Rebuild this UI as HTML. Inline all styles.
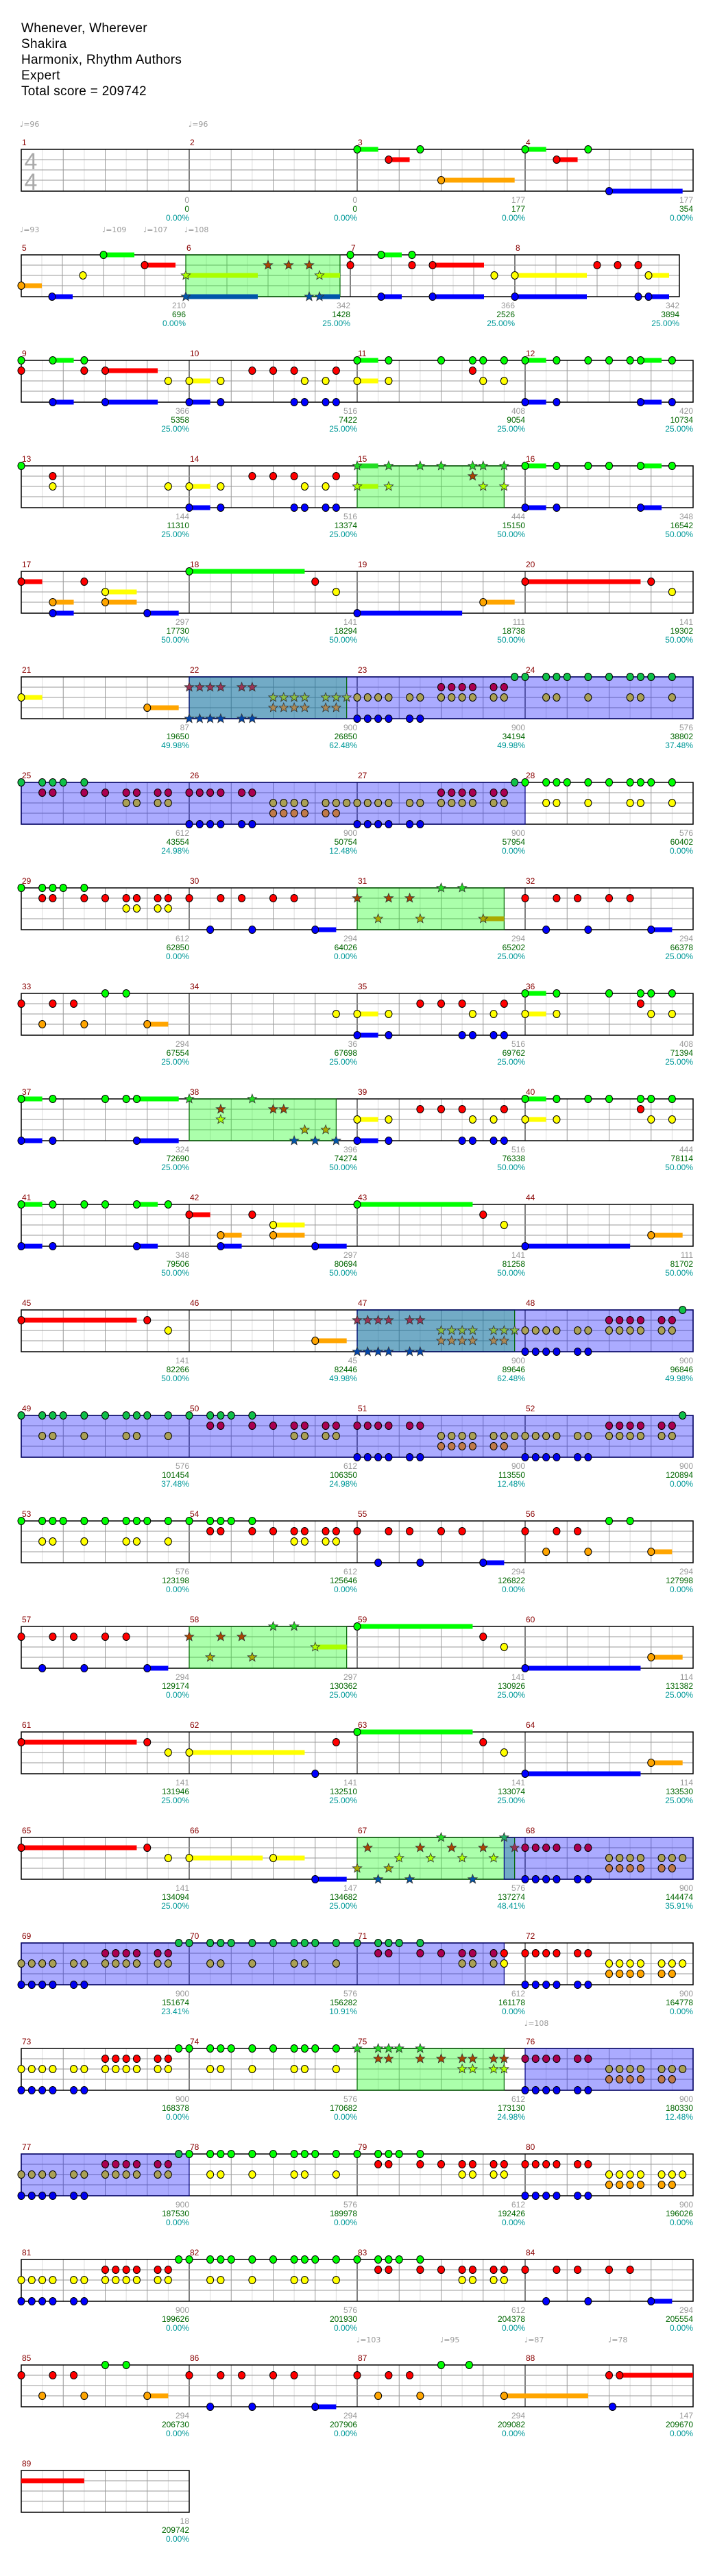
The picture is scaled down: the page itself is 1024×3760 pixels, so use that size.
<!DOCTYPE html>
<html><head><meta charset="utf-8">
<style>
html,body{margin:0;padding:0;background:#fff;}
body{width:1024px;height:3760px;position:relative;overflow:hidden;font-family:"Liberation Sans",sans-serif;}
#title{position:absolute;left:31px;top:30px;font-size:19px;line-height:23px;color:#000;letter-spacing:0.3px;}
svg{position:absolute;left:0;top:0;}
</style></head>
<body>
<div id="title">Whenever, Wherever<br>Shakira<br>Harmonix, Rhythm Authors<br>Expert<br>Total score = 209742</div>
<svg id="sv" width="1024" height="3760" xmlns="http://www.w3.org/2000/svg" font-family="Liberation Sans, sans-serif"></svg>
<script>
const Y18g="15 16 18 19 20 22 24 26 27 28 30 32 34 35 36 38";
const Y18r="8 9 10 11 13 14 34 35 38 40 42 43 45 46 48 49 50 51 53 54";
const Y18y="0 1 2 3 5 6 8 9 10 11 13 14 18 19 22 26 27 30 42 43 45 46 56 57 58 59 61 62 63";
const Y18b="0 1 2 3 5 6 48 49 50 51 53 54";
const Y18o="56 57 58 59 61 62";
const rows=[
{m:1,g:"32-34 38 48-50 54",r:"35-37 51-53",b:"56-63",o:"40-47",nums:[["0","0","0.00%"],["0","0","0.00%"],["177","177","0.00%"],["177","354","0.00%"]]},
{m:5,w:240,reg:[["s",16,31]],g:"8-11 32 35-37 38",r:"12-15 24 26 28 32 38 40-45 56 58 60",y:"6 16-23 29-31 46 48-55 61-63",b:"3-5 16-23 28 29-31 35-37 40-45 48-55 60 61-63",o:"0-2",nums:[["210","696","0.00%"],["342","1428","25.00%"],["366","2526","25.00%"],["342","3894","25.00%"]]},
{m:9,g:"0 3-5 6 32-34 35 40 43 44 46 48-50 51 54 56 58 59-61 62",r:"0 6 8-13 22 24 26 30 43",y:"14 16-18 19 27 29 32-34 35 44 46",b:"3-5 8-13 16-18 19 26 27 29 30 48-50 51 59-61 62",nums:[["366","5358","25.00%"],["516","7422","25.00%"],["408","9054","25.00%"],["420","10734","25.00%"]]},
{m:13,reg:[["s",32,46]],g:"0 32-34 35 38 40 43 44 46 48-50 51 54 56 59-61 62",r:"3 22 24 26 30 43",y:"3 14 16-18 19 27 29 32-34 35 44 46",b:"16-18 19 26 27 29 30 48-50 51 59-61",nums:[["144","11310","25.00%"],["516","13374","25.00%"],["444","15150","50.00%"],["348","16542","50.00%"]]},
{m:17,g:"16-27",r:"0-2 6 28 48-59 60",y:"8-11 30 62",b:"3-5 12-15 32-42",o:"3-5 8-11 44-47",nums:[["297","17730","50.00%"],["141","18294","50.00%"],["111","18738","50.00%"],["141","19302","50.00%"]]},
{m:21,reg:[["s",16,31],["o",16,64]],g:"47 48 50 51 52 54 56 58 59 60 62",r:"16 17 18 19 21 22 40 41 42 43 45 46",y:"0-2 24 25 26 27 29 30 31 32 33 34 35 37 38 40 41 42 43 45 46 50 51 54 58 59 62",b:"16 17 18 19 21 22 32 33 34 35 37 38",o:"12-15 24 25 26 27 29 30",nums:[["87","19650","49.98%"],["900","26850","62.48%"],["900","34194","49.98%"],["576","38802","37.48%"]]},
{m:25,reg:[["o",0,48]],g:"0 2 3 4 6 47 48 50 51 52 54 56 58 59 60 62",r:"2 3 6 8 10 11 13 14 16 17 18 19 21 22 40 41 42 43 45 46",y:"10 11 13 14 24 25 26 27 29 30 31 32 33 34 35 37 38 40 41 42 43 45 46 50 51 54 58 59 62",b:"16 17 18 19 21 22 32 33 34 35 37 38",o:"24 25 26 27 29 30",nums:[["612","43554","24.98%"],["900","50754","12.48%"],["900","57954","0.00%"],["576","60402","0.00%"]]},
{m:29,reg:[["s",32,46]],g:"0 2 3 4 6 40 42",r:"2 3 6 8 10 11 13 14 16 19 21 24 26 32 35 37 48 51 53 56 58",y:"10 11 13 14",b:"18 22 28-30 50 54 60-62",o:"34 38 44-46",nums:[["612","62850","0.00%"],["294","64026","0.00%"],["294","65202","25.00%"],["294","66378","25.00%"]]},
{m:33,g:"8 10 48-50 51 56 59 60 62",r:"0 3 5 38 40 42 46 59",y:"30 32-34 35 43 45 48-50 51 60 62",b:"32-34 35 42 43 45 46",o:"2 6 12-14",nums:[["294","67554","25.00%"],["36","67698","25.00%"],["516","69762","25.00%"],["408","71394","25.00%"]]},
{m:37,reg:[["s",16,30]],g:"0-2 3 8 10 11-15 16 22 48-50 51 54 56 59 60 62",r:"19 24 25 38 40 42 46 59",y:"19 32-34 35 43 45 48-50 51 60 62",b:"0-2 3 11-15 26 28 30 32-34 35 42 43 45 46",o:"27 29",nums:[["324","72690","25.00%"],["396","74274","50.00%"],["516","76338","50.00%"],["444","78114","50.00%"]]},
{m:41,g:"0-2 3 6 8 11-13 14 32-43",r:"16-18 22 44",y:"24-27 46",b:"0-2 3 11-13 19-21 28-31 48-58",o:"19-21 24-27 60-63",nums:[["348","79506","50.00%"],["297","80694","50.00%"],["141","81258","50.00%"],["111","81702","50.00%"]]},
{m:45,reg:[["s",32,47],["o",32,64]],g:"63",r:"0-11 12 32 33 34 35 37 38 56 57 58 59 61 62",y:"14 40 41 42 43 45 46 47 48 49 50 51 53 54 56 57 58 59 61 62",b:"32 33 34 35 37 38 48 49 50 51 53 54",o:"28-31 40 41 42 43 45 46",nums:[["141","82266","50.00%"],["45","82446","49.98%"],["900","89646","62.48%"],["900","96846","49.98%"]]},
{m:49,reg:[["o",0,64]],g:"0 2 3 4 6 8 10 11 12 14 16 18 19 20 22 63",r:"18 19 22 24 26 27 29 30 32 33 34 35 37 38 56 57 58 59 61 62",y:"2 3 6 10 11 14 26 27 29 30 40 41 42 43 45 46 47 48 49 50 51 53 54 56 57 58 59 61 62",b:"32 33 34 35 37 38 48 49 50 51 53 54",o:"40 41 42 43 45 46",nums:[["576","101454","37.48%"],["612","106350","24.98%"],["900","113550","12.48%"],["900","120894","0.00%"]]},
{m:53,g:"0 2 3 4 6 8 10 11 12 14 16 18 19 20 22 56 58",r:"18 19 22 24 26 27 29 30 32 35 37 40 42 48 51 53",y:"2 3 6 10 11 14 26 27 29 30",b:"34 38 44-46",o:"50 54 60-62",nums:[["576","123198","0.00%"],["612","125646","0.00%"],["294","126822","0.00%"],["294","127998","0.00%"]]},
{m:57,reg:[["s",16,31]],g:"24 26 32-43",r:"0 3 5 8 10 16 19 21 44",y:"28-31 46",b:"2 6 12-14 48-59",o:"18 22 60-63",nums:[["294","129174","0.00%"],["297","130362","25.00%"],["141","130926","25.00%"],["114","131382","25.00%"]]},
{m:61,g:"32-43",r:"0-11 12 30 44",y:"14 16-27 46",b:"28 48-59",o:"60-63",nums:[["141","131946","25.00%"],["141","132510","25.00%"],["141","133074","25.00%"],["114","133530","25.00%"]]},
{m:65,reg:[["s",32,47],["o",46,64]],g:"40 46",r:"0-11 12 33 38 41 44 47 48 49 50 51 53 54",y:"14 16-23 24-27 36 39 42 45 56 57 58 59 61 62 63",b:"28-31 34 37 43 48 49 50 51 53 54",o:"32 35 56 57 58 59 61 62",nums:[["141","134094","25.00%"],["147","134682","25.00%"],["576","137274","48.41%"],["900","144474","35.91%"]]},
{m:69,reg:[["o",0,46]],g:Y18g,r:Y18r,y:Y18y,b:Y18b,o:Y18o,nums:[["900","151674","23.41%"],["576","156282","10.91%"],["612","161178","0.00%"],["900","164778","0.00%"]]},
{m:73,reg:[["s",32,46],["o",48,64]],g:Y18g,r:Y18r,y:Y18y,b:Y18b,o:Y18o,nums:[["900","168378","0.00%"],["576","170682","0.00%"],["612","173130","24.98%"],["900","180330","12.48%"]]},
{m:77,reg:[["o",0,16]],g:Y18g,r:Y18r,y:Y18y,b:Y18b,o:Y18o,nums:[["900","187530","0.00%"],["576","189978","0.00%"],["612","192426","0.00%"],["900","196026","0.00%"]]},
{m:81,g:Y18g,r:"8 9 10 11 13 14 34 35 38 40 42 43 45 46 48 51 53 56 58",y:"0 1 2 3 5 6 8 9 10 11 13 14 18 19 22 26 27 30 42 43 45 46",b:"0 1 2 3 5 6 50 54 60-62",nums:[["900","199626","0.00%"],["576","201930","0.00%"],["612","204378","0.00%"],["294","205554","0.00%"]]},
{m:85,g:"8 10 40 42.67",r:"0 3 5 16 19 21 24 26 32 35 37 56 57-64",b:"18 22 28-30 56.33",o:"2 6 12-14 34 38 46-54",nums:[["294","206730","0.00%"],["294","207906","0.00%"],["294","209082","0.00%"],["147","209670","0.00%"]]},
{m:89,n:1,r:"~0-6",nums:[["18","209742","0.00%"]]}
];
const tempos=[[31,185,"96"],[277,185,"96"],[31,339,"93"],[151,339,"109"],[211,339,"107"],[271,339,"108"],[767,2957,"108"],[522,3419,"103"],[644,3419,"95"],[767,3419,"87"],[889,3419,"78"]];
const LY=[0,15,30,45,61];
const COL={
 n:{g:"#00ff00",r:"#ff0000",y:"#ffff00",b:"#0000ff",o:"#ffa500"},
 od:{g:"#10c048",r:"#aa0050",y:"#aaa055",b:"#0000ee",o:"#c07a4a"},
 sp:{g:"#22dd22",r:"#aa4400",y:"#aaff00",b:"#0055aa",o:"#aaaa00"},
 tl:{g:"#22aa66",r:"#993355",y:"#88bb44",b:"#0044aa",o:"#aa8855"}
};
let s='';
function star(cx,cy,f){let p=[];for(let k=0;k<10;k++){const rr=k%2?3:7;const a=-Math.PI/2+k*Math.PI/5;p.push((cx+rr*Math.cos(a)).toFixed(1)+","+(cy+rr*Math.sin(a)).toFixed(1));}return `<polygon points="${p.join(" ")}" fill="${f}" stroke="#333" stroke-width="0.8"/>`;}
rows.forEach((R,i)=>{
 const T=218+i*154,w=R.w||245,n=R.n||4,W=w*n,L=31;
 const X=u=>L+u*w/16;
 // grid
 for(let k=1;k<n*8;k++){const x=L+k*w/8;const c=k%8==0?"#000":(k%2==0?"#999":"#ddd");s+=`<line x1="${x}" y1="${T}" x2="${x}" y2="${T+61}" stroke="${c}" stroke-width="1"/>`;}
 for(const h of [15,30,45])s+=`<line x1="${L}" y1="${T+h}" x2="${L+W}" y2="${T+h}" stroke="#999" stroke-width="1"/>`;
 const reg=R.reg||[];
 reg.forEach(g=>{const x1=X(g[1]),x2=X(g[2]);s+=`<rect x="${x1}" y="${T}" width="${x2-x1}" height="61" fill="${g[0]=='s'?'rgba(0,255,0,0.33)':'rgba(0,0,255,0.33)'}"/>`;});
 s+=`<rect x="${L}" y="${T}" width="${W}" height="61" fill="none" stroke="#000" stroke-width="1.5"/>`;
 reg.forEach(g=>{const x1=X(g[1]),x2=X(g[2]);s+=`<rect x="${x1}" y="${T}" width="${x2-x1}" height="61" fill="none" stroke="${g[0]=='s'?'#006600':'#000080'}" stroke-width="1.2"/>`;});
 // measure numbers
 for(let k=0;k<n;k++){s+=`<text x="${L+k*w+1}" y="${T-6}" font-size="12" fill="#880000">${R.m+k}</text>`;}
 // numbers below
 R.nums.forEach((v,k)=>{const x=L+(k+1)*w;s+=`<text x="${x}" y="${T+78}" font-size="12" fill="#999" text-anchor="end">${v[0]}</text><text x="${x}" y="${T+91}" font-size="12" fill="#006600" text-anchor="end">${v[1]}</text><text x="${x}" y="${T+104}" font-size="12" fill="#009999" text-anchor="end">${v[2]}</text>`;});
 const style=u=>{let inS=false,inO=false;reg.forEach(g=>{if(g[0]=='s'&&u>=g[1]-0.01&&u<=g[2]+0.01)inS=true;if(g[0]=='o'&&u>=g[1]-0.01&&u<g[2]-0.01)inO=true;});return inS?(inO?'tl':'sp'):(inO?'od':'n');};
 let sus='',heads='';
 ['o','b','y','r','g'].forEach(ln=>{
  if(!R[ln])return;const ly=T+LY["gryob".indexOf(ln)];
  R[ln].split(" ").forEach(t=>{
   let noHead=false;if(t[0]=='~'){noHead=true;t=t.slice(1);}
   const pr=t.split("-");const u=parseFloat(pr[0]);const st=style(u);const c=COL[st][ln];
   if(pr.length>1){const e=parseFloat(pr[1]);sus+=`<rect x="${X(u)}" y="${ly-3.5}" width="${X(e)-X(u)}" height="7" fill="${c}"/>`;}
   if(!noHead){if(st=='sp'||st=='tl')heads+=star(X(u),ly,c);else heads+=`<ellipse cx="${X(u)}" cy="${ly}" rx="5" ry="5.5" fill="${c}" stroke="#000" stroke-width="1"/>`;}
  });
 });
 s+=sus+heads;
});
// time signature
s+=`<text x="45" y="247" font-size="34" fill="#aaa" text-anchor="middle">4</text><text x="45" y="277" font-size="34" fill="#aaa" text-anchor="middle">4</text>`;
tempos.forEach(t=>{s+=`<text x="${t[0]-2}" y="${t[1]}" font-size="11" fill="#999" font-family="DejaVu Sans, sans-serif">♩=${t[2]}</text>`;});
document.getElementById("sv").innerHTML=s;
</script>
</body></html>
